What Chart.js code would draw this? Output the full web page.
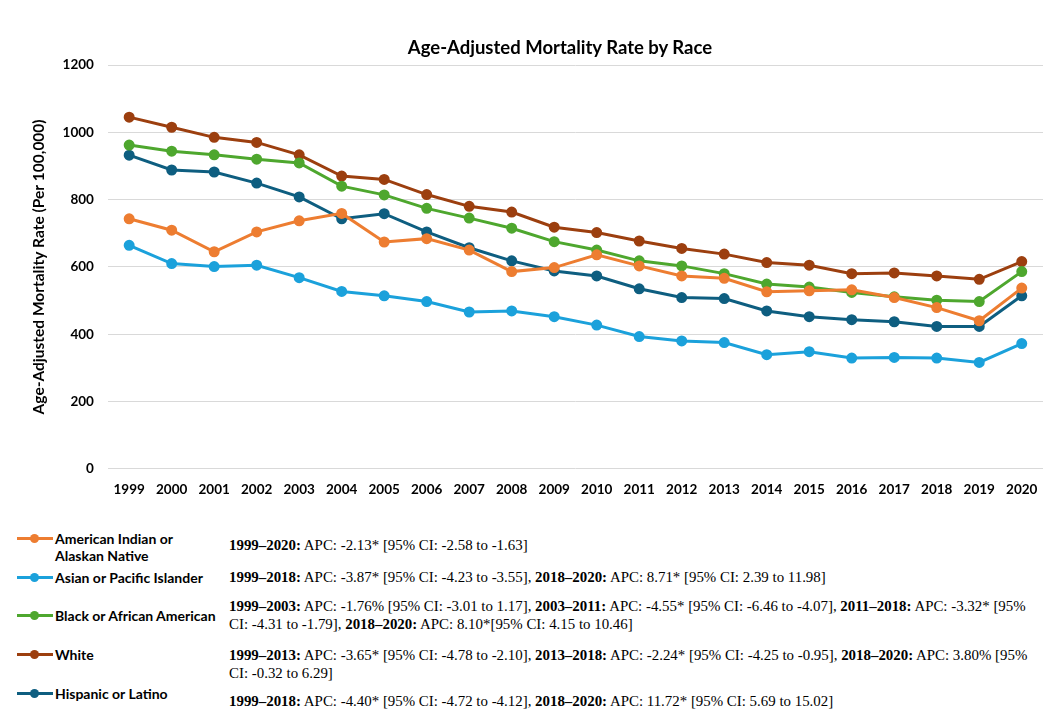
<!DOCTYPE html>
<html>
<head>
<meta charset="utf-8">
<script src="https://cdn.jsdelivr.net/npm/chart.js@4"></script>
<style>
  body { margin: 0; background: #fff; width: 1064px; height: 720px; position: relative; overflow: hidden; }
  #chart { position: absolute; left: 0; top: 0; }
  #title { position: absolute; left: 260px; width: 600px; top: 35px; text-align: center; font-family: Lato, "Open Sans", sans-serif; font-weight: bold; font-size: 18.5px; line-height: 24px; color: #000; }
  .leg { position: absolute; left: 17px; font-family: Lato, "Open Sans", sans-serif; font-weight: bold; font-size: 14px; line-height: 17px; color: #000; }
  .leg .txt { position: absolute; left: 38px; top: 0; white-space: nowrap; }
  .leg .ln { position: absolute; left: 0; top: 7px; width: 36px; height: 3px; }
  .leg .dot { position: absolute; left: 13px; top: 4px; width: 9px; height: 9px; border-radius: 50%; }
  .apc { position: absolute; left: 229px; width: 815px; font-family: "Liberation Serif", "Times New Roman", serif; font-size: 14.9px; line-height: 18px; color: #000; }
</style>
</head>
<body>
<canvas id="chart" width="1064" height="503"></canvas>
<div id="title">Age-Adjusted Mortality Rate by Race</div>
<div id="legend"></div>
<script>
// Age-adjusted mortality rate per 100,000
const years = ['1999','2000','2001','2002','2003','2004','2005','2006','2007','2008','2009',
               '2010','2011','2012','2013','2014','2015','2016','2017','2018','2019','2020'];
const aian     = [743,709,645,704,737,759,674,684,650,586,598,636,603,573,566,526,529,532,509,479,440,537];
const asian    = [664,610,601,605,568,527,514,497,466,469,452,427,393,380,375,339,348,329,331,329,316,372];
const black    = [962,944,933,920,909,840,814,774,745,715,675,650,618,603,580,549,540,524,511,501,497,586];
const white    = [1045,1015,985,970,933,870,860,815,780,763,718,702,677,655,638,613,605,580,582,573,563,616];
const hispanic = [932,888,882,849,808,743,758,704,657,618,588,573,535,509,506,469,452,443,437,423,423,514];

const seriesNames = ['American Indian or Alaskan Native', 'Asian or Pacific Islander',
                     'Black or African American', 'White', 'Hispanic or Latino'];
const colors = ['#ED7D31', '#1BA1DB', '#4EA72E', '#9C3F0F', '#0E5E80'];

const apcText = [
  '<b>1999–2020:</b> APC: -2.13* [95% CI: -2.58 to -1.63]',
  '<b>1999–2018:</b> APC: -3.87* [95% CI: -4.23 to -3.55], <b>2018–2020:</b> APC: 8.71* [95% CI: 2.39 to 11.98]',
  '<b>1999–2003:</b> APC: -1.76% [95% CI: -3.01 to 1.17], <b>2003–2011:</b> APC: -4.55* [95% CI: -6.46 to -4.07], <b>2011–2018:</b> APC: -3.32* [95% CI: -4.31 to -1.79], <b>2018–2020:</b> APC: 8.10*[95% CI: 4.15 to 10.46]',
  '<b>1999–2013:</b> APC: -3.65* [95% CI: -4.78 to -2.10], <b>2013–2018:</b> APC: -2.24* [95% CI: -4.25 to -0.95], <b>2018–2020:</b> APC: 3.80% [95% CI: -0.32 to 6.29]',
  '<b>1999–2018:</b> APC: -4.40* [95% CI: -4.72 to -4.12], <b>2018–2020:</b> APC: 11.72* [95% CI: 5.69 to 15.02]'
];

const allData = [aian, asian, black, white, hispanic];

// legend rows placed like the original
const legendLabels = [['American Indian or', 'Alaskan Native'], ['Asian or Pacific Islander'],
                      ['Black or African American'], ['White'], ['Hispanic or Latino']];
const legendTop = [530, 569, 607, 646, 685];
const apcTop = [536, 568, 597, 646, 692];

const legendBox = document.getElementById('legend');
for (let i = 0; i < seriesNames.length; i++) {
  const d = document.createElement('div');
  d.className = 'leg';
  d.style.top = legendTop[i] + 'px';
  d.innerHTML = '<div class="ln" style="background:' + colors[i] + '"></div>' +
                '<div class="dot" style="background:' + colors[i] + '"></div>' +
                '<div class="txt">' + legendLabels[i].join('<br>') + '</div>';
  legendBox.appendChild(d);

  const a = document.createElement('div');
  a.className = 'apc';
  a.style.top = apcTop[i] + 'px';
  a.innerHTML = apcText[i];
  legendBox.appendChild(a);
}

const tickFont = { family: 'Lato, "Open Sans", sans-serif', size: 13.5, weight: 'bold' };

const ctx = document.getElementById('chart').getContext('2d');
new Chart(ctx, {
  type: 'line',
  data: {
    labels: years,
    datasets: seriesNames.map((name, i) => ({
      label: name,
      data: allData[i],
      borderColor: colors[i],
      backgroundColor: colors[i],
      borderWidth: 3,
      pointRadius: 4,
      pointHoverRadius: 4,
      tension: 0
    }))
  },
  options: {
    responsive: false,
    animation: false,
    layout: { padding: { left: 30, right: 21, top: 65, bottom: 0 } },
    plugins: {
      legend: { display: false },
      tooltip: { enabled: false }
    },
    scales: {
      x: {
        offset: true,
        grid: { display: false },
        border: { display: false },
        ticks: { color: '#000', padding: 5, maxRotation: 0, font: tickFont }
      },
      y: {
        min: 0,
        max: 1200,
        grid: { color: '#d9d9d9', drawTicks: false },
        border: { display: false },
        ticks: {
          stepSize: 200,
          color: '#000',
          padding: 14,
          font: tickFont,
          callback: function(value) { return String(value); }
        },
        title: {
          display: true,
          text: 'Age-Adjusted Mortality Rate (Per 100,000)',
          color: '#000',
          padding: { top: 0, bottom: 0 },
          font: { family: 'Lato, "Open Sans", sans-serif', size: 15.5, weight: 'bold' }
        }
      }
    }
  }
});
</script>
</body>
</html>
